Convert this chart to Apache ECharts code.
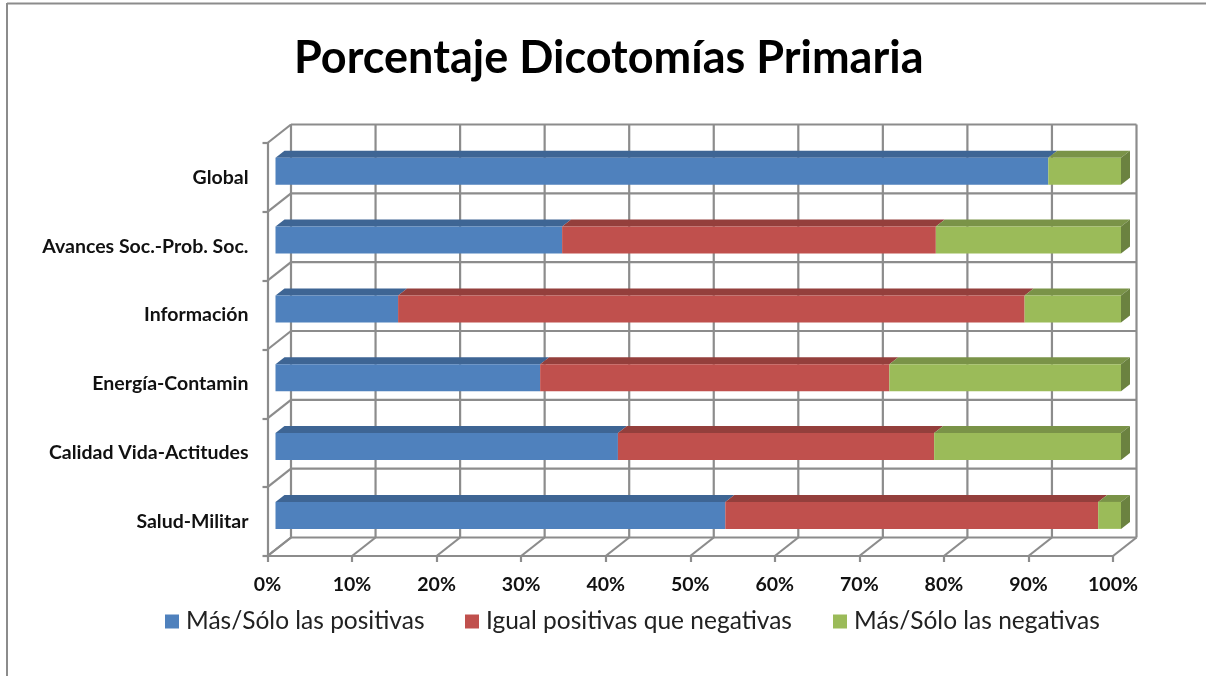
<!DOCTYPE html>
<html>
<head>
<meta charset="utf-8">
<style>html,body{margin:0;padding:0;background:#fff}#c{width:1206px;height:676px}</style>
<script src="https://cdn.jsdelivr.net/npm/echarts@6/dist/echarts.min.js"></script>
</head>
<body>
<div id="c"></div>
<script>
const titleText = 'Porcentaje Dicotomías Primaria';
const categories = ['Salud-Militar','Calidad Vida-Actitudes','Energía-Contamin','Información','Avances Soc.-Prob. Soc.','Global'];
const positivas = [53.2,40.5,31.3,14.5,33.9,91.4];
const iguales = [44.1,37.4,41.3,74.1,44.2,0];
const negativas = [2.7,22.1,27.4,11.4,21.9,8.6];
const seriesNames = ['Más/Sólo las positivas','Igual positivas que negativas','Más/Sólo las negativas'];
const xTicks = [0,10,20,30,40,50,60,70,80,90,100];

const frontColors = ['#4F81BD','#C0504D','#9BBB59'];
const topColors = ['#3E6594','#943F3C','#7A9348'];
const sideColor = '#6B8240';
const gridColor = '#8C8C8C';
const font = 'Lato';
const F = {left:267.5, top:143, width:845.5, height:413};
const barOff = {x:8, y:-6.2};
const wall = {x:23.5, y:-18.5};
const depth = {x:9, y:-7};
const barH = 27;

const allVals = [positivas, iguales, negativas];
function stackData(si){
  return categories.map((c,i)=>{
    let s=0; for(let k=0;k<si;k++) s+=allVals[k][i];
    return [s, s+allVals[si][i], i];
  });
}
function line(x1,y1,x2,y2){
  return {type:'line',shape:{x1,y1,x2,y2},style:{stroke:gridColor,lineWidth:2.2,fill:null},silent:true};
}
const xWall = {
  type:'custom', xAxisIndex:0, yAxisIndex:0, z:1, silent:true, clip:false,
  data:xTicks.map(v=>[v]), encode:{x:0},
  renderItem(p,api){
    const v=api.value(0), pt=api.coord([v,0]), band=api.size([0,1])[1];
    const bottom=pt[1]+band/2, top=bottom-band*categories.length;
    return {type:'group',children:[
      line(pt[0],bottom,pt[0]+wall.x,bottom+wall.y),
      line(pt[0]+wall.x,bottom+wall.y,pt[0]+wall.x,top+wall.y)
    ]};
  }
};
const yWall = {
  type:'custom', xAxisIndex:0, yAxisIndex:0, z:1, silent:true, clip:false,
  data:categories.map((c,i)=>[i]).concat([[categories.length]]), encode:{y:0},
  renderItem(p,api){
    const k=api.value(0), p0=api.coord([0,0]), p1=api.coord([100,0]), band=api.size([0,1])[1];
    const y=p0[1]+band/2-band*k;
    return {type:'group',children:[
      line(p0[0],y,p0[0]+wall.x,y+wall.y),
      line(p0[0]+wall.x,y+wall.y,p1[0]+wall.x,y+wall.y)
    ]};
  }
};
function depthSeries(si){
  return {
    type:'custom', xAxisIndex:1, yAxisIndex:1, z:3, silent:true, clip:false,
    data:stackData(si), encode:{x:[0,1],y:2},
    renderItem(p,api){
      const a=api.coord([api.value(0),api.value(2)]), b=api.coord([api.value(1),api.value(2)]);
      const t=a[1]-barH/2, d=a[1]+barH/2, kids=[];
      if(b[0]-a[0]>0.01){
        kids.push({type:'polygon',shape:{points:[[a[0],t],[b[0],t],[b[0]+depth.x,t+depth.y],[a[0]+depth.x,t+depth.y]]},style:{fill:topColors[si]}});
      }
      if(si===frontColors.length-1){
        kids.push({type:'polygon',shape:{points:[[b[0],t],[b[0]+depth.x,t+depth.y],[b[0]+depth.x,d+depth.y],[b[0],d]]},style:{fill:sideColor}});
      }
      return {type:'group',children:kids};
    }
  };
}
const barSeries = seriesNames.map((n,si)=>({
  name:n, type:'bar', stack:'t', xAxisIndex:1, yAxisIndex:1, z:4, barWidth:barH,
  itemStyle:{color:frontColors[si]}, data:allVals[si], silent:true
}));
const legendLefts = [160,460,828];
const chart = echarts.init(document.getElementById('c'),null,{renderer:'canvas'});
chart.setOption({
  animation:false,
  backgroundColor:'#fff',
  title:{text:titleText,left:289,top:31,textStyle:{fontFamily:font,fontWeight:'bold',fontSize:45,color:'#000'}},
  legend:seriesNames.map((n,i)=>({
    data:[n],left:legendLefts[i],top:604,icon:'rect',itemWidth:14,itemHeight:14,itemGap:6,
    textStyle:{fontFamily:font,fontSize:24.5,color:'#222',padding:[0,0,0,2]}
  })),
  grid:[
    {left:F.left,top:F.top,width:F.width,height:F.height,containLabel:false},
    {left:F.left+barOff.x,top:F.top+barOff.y,width:F.width,height:F.height,containLabel:false}
  ],
  xAxis:[
    {type:'value',gridIndex:0,min:0,max:100,interval:10,data:xTicks,
     axisLine:{show:true,lineStyle:{color:gridColor,width:2.2}},
     axisTick:{show:true,length:6,lineStyle:{color:gridColor,width:2.2}},
     splitLine:{show:false},
     axisLabel:{show:true,formatter:'{value}%',margin:19,hideOverlap:false,fontFamily:font,fontWeight:'bold',fontSize:19.5,color:'#111'}},
    {type:'value',gridIndex:1,min:0,max:100,show:false,splitLine:{show:false}}
  ],
  yAxis:[
    {type:'category',gridIndex:0,data:categories,
     axisLine:{show:true,lineStyle:{color:gridColor,width:2.2}},
     axisTick:{show:true,length:5,lineStyle:{color:gridColor,width:2.2}},
     axisLabel:{margin:19,fontFamily:font,fontWeight:'bold',fontSize:19.5,color:'#111',interval:0}},
    {type:'category',gridIndex:1,data:categories,show:false}
  ],
  graphic:[
    {type:'line',shape:{x1:7,y1:3.5,x2:1206,y2:3.5},style:{stroke:gridColor,lineWidth:2}},
    {type:'line',shape:{x1:7,y1:3,x2:7,y2:676},style:{stroke:gridColor,lineWidth:2}}
  ],
  series:[xWall,yWall,depthSeries(0),depthSeries(1),depthSeries(2),...barSeries]
});
</script>
</body>
</html>
